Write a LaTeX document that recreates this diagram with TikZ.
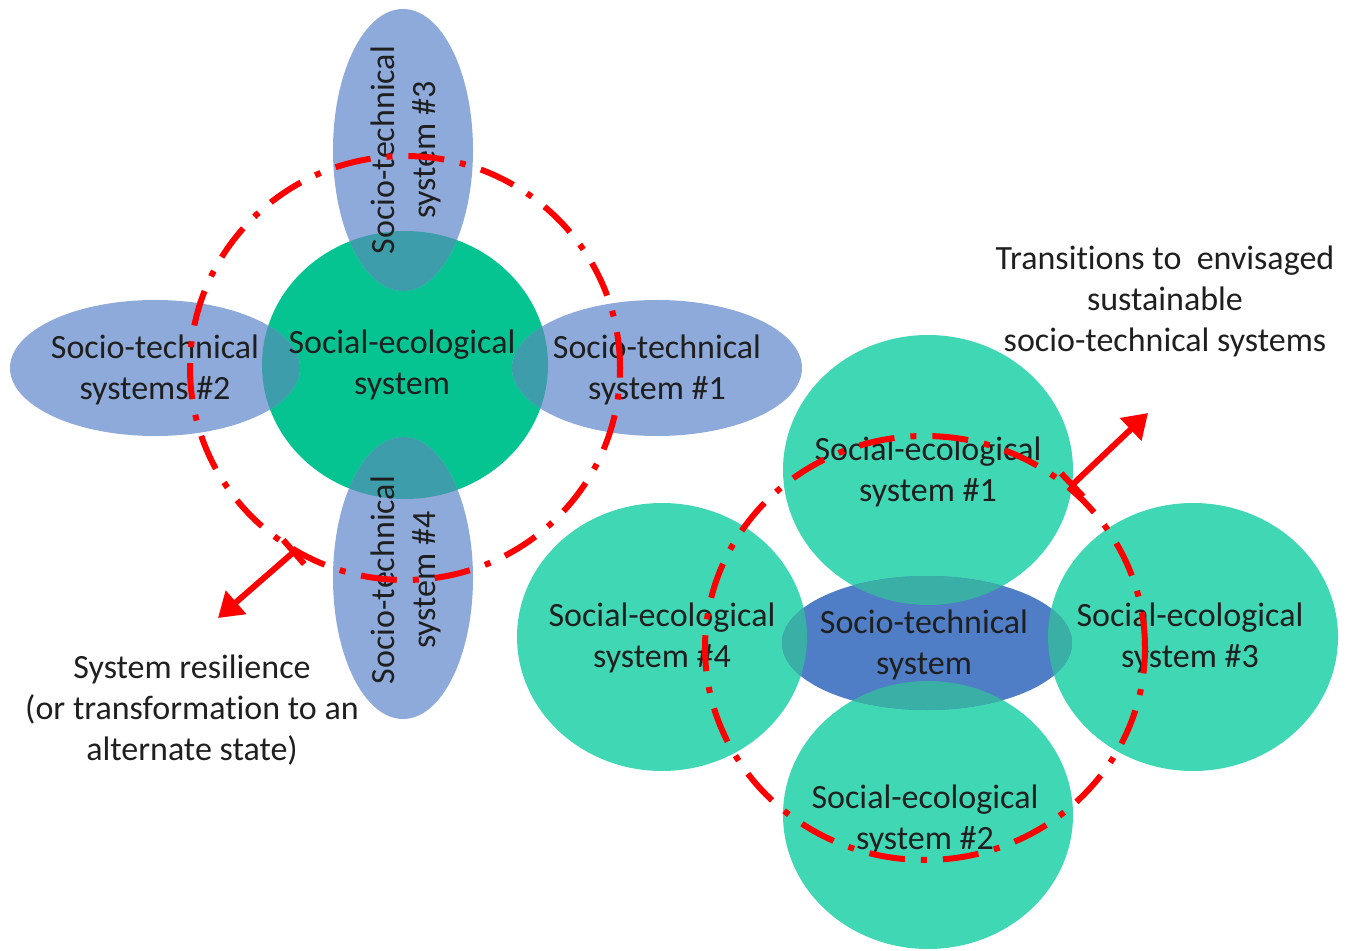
\documentclass[tikz,border=0pt]{standalone}
\usepackage{fontspec}
\setmainfont[Ligatures=NoCommon]{Carlito}
\usepackage{xcolor}
\usetikzlibrary{arrows.meta}

\definecolor{segreen}{HTML}{05C492}
\definecolor{seblue}{HTML}{8EAADB}
\definecolor{seteal}{HTML}{3E9DAA}
\definecolor{rgreen}{HTML}{40D8B4}
\definecolor{rblue}{HTML}{4F7EC6}
\definecolor{rteal}{HTML}{3AAFA6}
\definecolor{ringred}{HTML}{FF0000}

\begin{document}
\begin{tikzpicture}[
    x=0.5pt, y=-0.5pt,
    lbl/.style={font=\fontsize{17}{20.5}\selectfont, align=center, text=black!88, inner sep=0pt},
    ring/.style={draw=ringred, line width=3pt, dash pattern=on 18pt off 8pt on 3pt off 8pt},
    arrow/.style={{Bar[width=16pt]}-{Triangle[length=12pt, width=15pt]}, draw=ringred, line width=3pt}
]
    \useasboundingbox (0,0) rectangle (1348,951);

    % left: one social-ecological system, four socio-technical systems
    \fill[segreen] (405,365) ellipse [x radius=71.5pt, y radius=67pt];
    \fill[seblue] (403,150) ellipse [x radius=35pt, y radius=70.5pt];
    \fill[seblue] (403,578) ellipse [x radius=35pt, y radius=70.5pt];
    \fill[seblue] (155,368) ellipse [x radius=72.5pt, y radius=34pt];
    \fill[seblue] (657,368) ellipse [x radius=72.5pt, y radius=34pt];
    \begin{scope}
        \clip (405,365) ellipse [x radius=71.5pt, y radius=67pt];
        \fill[seteal] (403,150) ellipse [x radius=35pt, y radius=70.5pt];
        \fill[seteal] (403,578) ellipse [x radius=35pt, y radius=70.5pt];
        \fill[seteal] (155,368) ellipse [x radius=72.5pt, y radius=34pt];
        \fill[seteal] (657,368) ellipse [x radius=72.5pt, y radius=34pt];
    \end{scope}

    \node[lbl] (ses) at (402,365) {Social-ecological\\system};
    \node[lbl] (sts2) at (155,370) {Socio-technical\\systems \#2};
    \node[lbl] (sts1) at (657,370) {Socio-technical\\system \#1};
    \node[lbl, rotate=90] (sts3) at (406,150) {Socio-technical\\system \#3};
    \node[lbl, rotate=90] (sts4) at (406,580) {Socio-technical\\system \#4};
    \node[lbl] (resil) at (192,710) {System resilience\\(or transformation to an\\alternate state)};

    \draw[ring] (405,368) ellipse [x radius=107.5pt, y radius=106pt];
    \coordinate (resStart) at (296,550);
    \coordinate (resEnd) at (218,618);
    \draw[arrow] (resStart) -- (resEnd);

    % right: one socio-technical system, four social-ecological systems
    \fill[rgreen] (928,470) ellipse [x radius=72.5pt, y radius=67.5pt];
    \fill[rgreen] (662,637) ellipse [x radius=72.5pt, y radius=67pt];
    \fill[rgreen] (1193,637) ellipse [x radius=72.5pt, y radius=67pt];
    \fill[rgreen] (928,815) ellipse [x radius=72.5pt, y radius=67pt];
    \fill[rblue] (927,643) ellipse [x radius=72.5pt, y radius=33.5pt];
    \begin{scope}
        \clip (927,643) ellipse [x radius=72.5pt, y radius=33.5pt];
        \fill[rteal] (928,470) ellipse [x radius=72.5pt, y radius=67.5pt];
        \fill[rteal] (662,637) ellipse [x radius=72.5pt, y radius=67pt];
        \fill[rteal] (1193,637) ellipse [x radius=72.5pt, y radius=67pt];
        \fill[rteal] (928,815) ellipse [x radius=72.5pt, y radius=67pt];
    \end{scope}

    \node[lbl] (sys1) at (928,472) {Social-ecological\\system \#1};
    \node[lbl] (sys4) at (662,638) {Social-ecological\\system \#4};
    \node[lbl] (sys3) at (1190,638) {Social-ecological\\system \#3};
    \node[lbl] (sys2) at (925,820) {Social-ecological\\system \#2};
    \node[lbl] (tech) at (924,645) {Socio-technical\\system};
    \node[lbl] (trans) at (1165,301) {Transitions to\ \ envisaged\\sustainable\\socio-technical systems};

    \draw[ring] (925,648) ellipse [x radius=110pt, y radius=106pt];
    \coordinate (transStart) at (1070,487);
    \coordinate (transEnd) at (1148,413);
    \draw[arrow] (transStart) -- (transEnd);
\end{tikzpicture}
\end{document}
